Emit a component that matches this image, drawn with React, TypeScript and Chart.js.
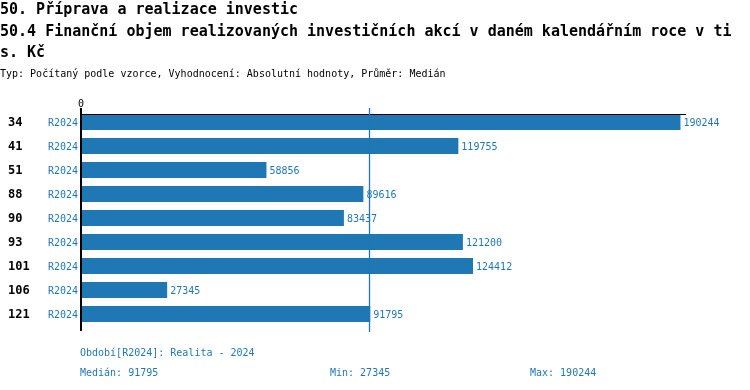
import React, { useEffect, useRef } from "react";
import { Chart, registerables } from "chart.js";

Chart.register(...registerables);

const titleLines = [
  "50. Příprava a realizace investic",
  "50.4 Finanční objem realizovaných investičních akcí v daném kalendářním roce v ti",
  "s. Kč",
];
const subtitle = "Typ: Počítaný podle vzorce, Vyhodnocení: Absolutní hodnoty, Průměr: Medián";
const categories = ["34", "41", "51", "88", "90", "93", "101", "106", "121"];
const periodLabel = "R2024";
const values = [190244, 119755, 58856, 89616, 83437, 121200, 124412, 27345, 91795];
const periodNote = "Období[R2024]: Realita - 2024";
const xTicks = [0];

const BLUE = "#1f77b4";
const MONO = "'DejaVu Sans Mono', monospace";

function median(a: number[]) {
  const s = [...a].sort((x, y) => x - y);
  const m = Math.floor(s.length / 2);
  return s.length % 2 ? s[m] : (s[m - 1] + s[m]) / 2;
}

export default function App() {
  const ref = useRef<HTMLCanvasElement | null>(null);
  useEffect(() => {
    document.body.style.margin = "0";
    const med = median(values);
    const mn = Math.min(...values);
    const mx = Math.max(...values);
    const overlay = {
      id: "overlay",
      afterDatasetsDraw(chart: any) {
        const ctx = chart.ctx as CanvasRenderingContext2D;
        const xs = chart.scales.x;
        const ys = chart.scales.y;
        const area = chart.chartArea;
        const axisTop = area.top + 4;
        const axisBottom = area.bottom + 5;
        ctx.save();
        // titles
        ctx.fillStyle = "#000";
        ctx.textBaseline = "alphabetic";
        ctx.textAlign = "left";
        ctx.font = `bold 15px ${MONO}`;
        const tb = [14, 36, 57];
        titleLines.forEach((t, i) => ctx.fillText(t, 0, tb[i]));
        ctx.font = `10px ${MONO}`;
        ctx.fillText(subtitle, 0, 77);
        // top axis
        ctx.strokeStyle = "#000";
        ctx.lineWidth = 1;
        ctx.beginPath();
        ctx.moveTo(area.left, axisTop + 0.5);
        ctx.lineTo(area.right, axisTop + 0.5);
        ctx.stroke();
        // left axis
        const x0 = xs.getPixelForValue(0);
        ctx.lineWidth = 2;
        ctx.beginPath();
        ctx.moveTo(x0, axisTop - 6);
        ctx.lineTo(x0, axisBottom);
        ctx.stroke();
        // tick labels
        ctx.fillStyle = "#000";
        ctx.font = `10px ${MONO}`;
        ctx.textAlign = "center";
        xTicks.forEach((t) => ctx.fillText(String(t), xs.getPixelForValue(t), 107));
        // median line
        const xm = Math.round(xs.getPixelForValue(med)) - 0.5;
        ctx.strokeStyle = BLUE;
        ctx.lineWidth = 1.3;
        ctx.beginPath();
        ctx.moveTo(xm, axisTop - 6);
        ctx.lineTo(xm, axisBottom + 1);
        ctx.stroke();
        // row labels and value labels
        ctx.textBaseline = "middle";
        categories.forEach((c, i) => {
          const y = ys.getPixelForValue(i);
          ctx.fillStyle = "#000";
          ctx.textAlign = "left";
          ctx.font = `bold 12px ${MONO}`;
          ctx.fillText(c, 8, y + 1);
          ctx.fillStyle = BLUE;
          ctx.font = `10px ${MONO}`;
          ctx.textAlign = "right";
          ctx.fillText(periodLabel, 78, y + 1);
          ctx.textAlign = "left";
          ctx.fillText(String(values[i]), xs.getPixelForValue(values[i]) + 3, y + 1);
        });
        // footer
        ctx.textBaseline = "alphabetic";
        ctx.fillStyle = BLUE;
        ctx.font = `10px ${MONO}`;
        ctx.textAlign = "left";
        ctx.fillText(periodNote, 80, 356);
        ctx.fillText(`Medián: ${med}`, 80, 376);
        ctx.fillText(`Min: ${mn}`, 330, 376);
        ctx.fillText(`Max: ${mx}`, 530, 376);
        ctx.restore();
      },
    };
    const chart = new Chart(ref.current as HTMLCanvasElement, {
      type: "bar",
      data: {
        labels: categories,
        datasets: [
          {
            data: values,
            backgroundColor: BLUE,
            borderWidth: 0,
            barPercentage: 16 / 24,
            categoryPercentage: 1,
          },
        ],
      },
      options: {
        indexAxis: "y",
        animation: false,
        responsive: false,
        maintainAspectRatio: false,
        layout: { padding: { left: 81, top: 110, right: 64, bottom: 64 } },
        plugins: { legend: { display: false }, tooltip: { enabled: false }, title: { display: false } },
        scales: {
          x: { display: false, min: 0, max: 192000 },
          y: { display: false },
        },
      },
      plugins: [overlay],
    });
    return () => chart.destroy();
  }, []);
  return (
    <div style={{ position: "fixed", left: 0, top: 0, width: 750, height: 390, background: "#fff" }}>
      <canvas ref={ref} width={750} height={390} style={{ width: 750, height: 390, display: "block" }} />
    </div>
  );
}
